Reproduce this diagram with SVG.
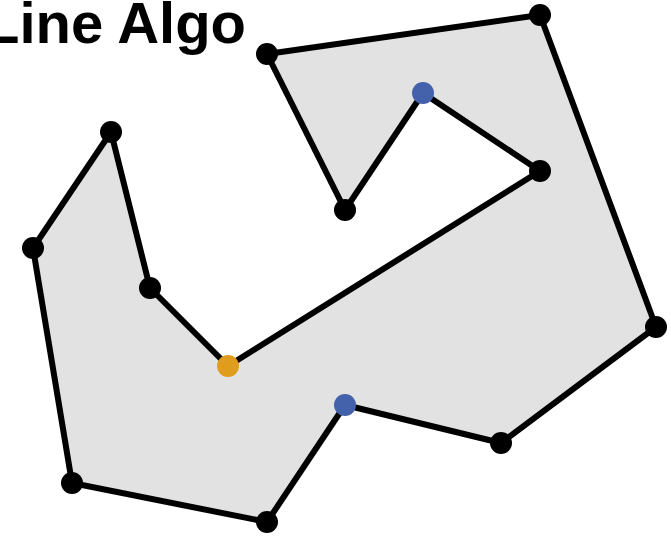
<svg xmlns="http://www.w3.org/2000/svg" width="671" height="536" viewBox="0 0 671 536">
<style>
.edge{stroke:#000;stroke-width:6;stroke-linecap:round;stroke-linejoin:round;fill:#e2e2e2}
.v{fill:#000}
.b{fill:#4462ab}
.o{fill:#e09c1d}
.title{font-family:"Liberation Sans",Arial,sans-serif;font-weight:bold;font-size:58px;fill:#000}
</style>
<rect width="671" height="536" fill="#fff"/>
<text class="title" x="-16" y="43">Line Algo</text>
<g id="connectors">
<polygon class="edge" points="267,54 540,15 656,327 501,443 345,405 267,522 72,483 33,248 111,132 150,288 228,366 540,171 423,93 345,210"/>
</g>
<g id="n1"><circle class="v" cx="267" cy="54" r="11"/></g>
<g id="n2"><circle class="v" cx="540" cy="15" r="11"/></g>
<g id="n3"><circle class="v" cx="656" cy="327" r="11"/></g>
<g id="n4"><circle class="v" cx="501" cy="443" r="11"/></g>
<g id="n5"><circle class="b" cx="345" cy="405" r="11"/></g>
<g id="n6"><circle class="v" cx="267" cy="522" r="11"/></g>
<g id="n7"><circle class="v" cx="72" cy="483" r="11"/></g>
<g id="n8"><circle class="v" cx="33" cy="248" r="11"/></g>
<g id="n9"><circle class="v" cx="111" cy="132" r="11"/></g>
<g id="n10"><circle class="v" cx="150" cy="288" r="11"/></g>
<g id="n11"><circle class="o" cx="228" cy="366" r="11"/></g>
<g id="n12"><circle class="v" cx="540" cy="171" r="11"/></g>
<g id="n13"><circle class="b" cx="423" cy="93" r="11"/></g>
<g id="n14"><circle class="v" cx="345" cy="210" r="11"/></g>
</svg>
